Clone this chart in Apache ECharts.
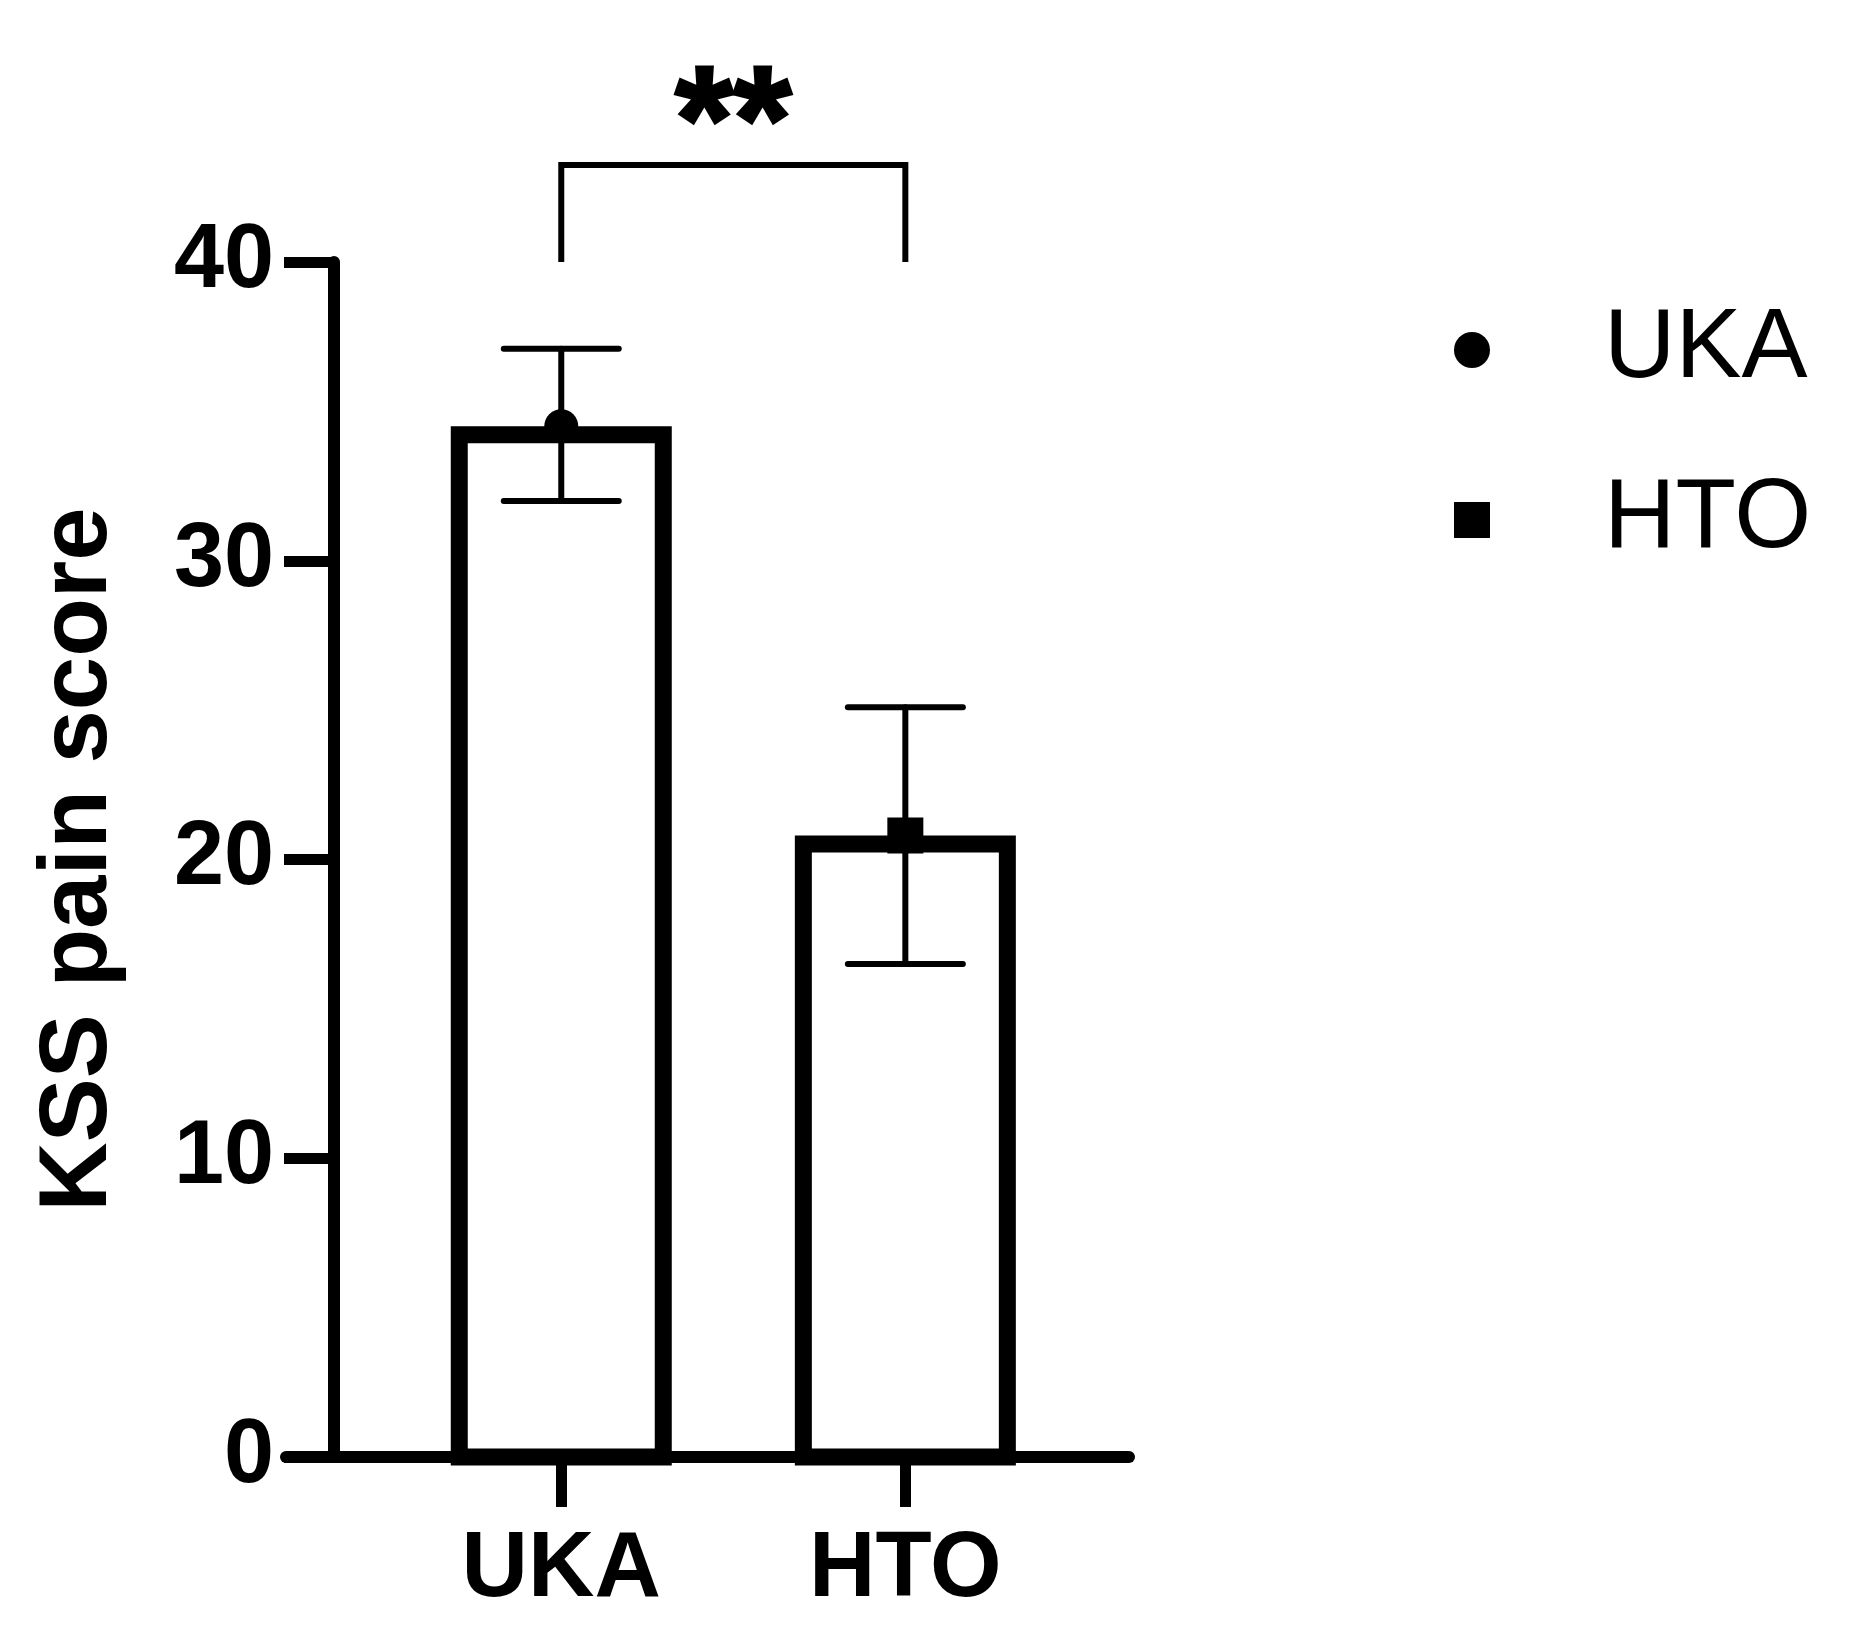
<!DOCTYPE html>
<html>
<head>
<meta charset="utf-8">
<title>KSS pain score</title>
<script src="https://cdn.jsdelivr.net/npm/echarts@6/dist/echarts.min.js"></script>
<style>
  html, body { margin: 0; padding: 0; background: #fff; }
  #chart { width: 1868px; height: 1637px; }
</style>
</head>
<body>
<div id="chart"></div>
<script>
// data
const groups = ['UKA', 'HTO'];
const groupPos = [1, 2];
const means = [34.5, 20.8];
const errLow = [32.0, 16.5];
const errHigh = [37.1, 25.1];
const yTicks = [0, 10, 20, 30, 40];
const sigPair = [1, 2];
const sigLegBottom = 40;
const sigTop = 43.25;
const sigText = '**';

const FONT = '"Liberation Sans", Arial, sans-serif';
const chart = echarts.init(document.getElementById('chart'));

const barW = 221;   // outer width
const barBorder = 17;
const capW = 115;

const option = {
  backgroundColor: '#fff',
  animation: false,
  grid: { left: 286, right: 739, top: 262, bottom: 180 },
  xAxis: {
    type: 'value',
    min: 0.2,
    max: 2.65,
    axisLine: { onZero: false, lineStyle: { color: '#000', width: 12 } },
    axisTick: { show: true, length: 50, lineStyle: { color: '#000', width: 11 }, customValues: groupPos },
    axisLabel: {
      customValues: groupPos,
      margin: 68,
      color: '#000',
      fontFamily: FONT,
      fontWeight: 'bold',
      fontSize: 92,
      formatter: v => groups[groupPos.indexOf(v)] || ''
    },
    splitLine: { show: false }
  },
  yAxis: {
    type: 'value',
    min: yTicks[0],
    max: yTicks[yTicks.length - 1],
    interval: 10,
    offset: -48,
    name: 'KSS pain score',
    nameLocation: 'middle',
    nameRotate: 90,
    nameGap: 206,
    nameTextStyle: { color: '#000', fontFamily: FONT, fontWeight: 'bold', fontSize: 96 },
    axisLine: { show: true, onZero: false, lineStyle: { color: '#000', width: 12 } },
    axisTick: { show: true, length: 50, lineStyle: { color: '#000', width: 11 } },
    axisLabel: { margin: 60, color: '#000', fontFamily: FONT, fontWeight: 'bold', fontSize: 90 },
    splitLine: { show: false }
  },
  legend: {
    orient: 'vertical',
    left: 1449,
    top: 295,
    itemWidth: 36,
    itemHeight: 36,
    itemGap: 70,
    itemStyle: { opacity: 1 },
    data: [
      { name: 'UKA', icon: 'circle' },
      { name: 'HTO', icon: 'rect' }
    ],
    textStyle: { color: '#000', fontFamily: FONT, fontSize: 99, lineHeight: 100, padding: [0, 0, 0, 109] }
  },
  series: [
    {
      // bars drawn with inset border
      type: 'custom',
      z: 2,
      data: groupPos.map((p, i) => [p, means[i]]),
      renderItem: (params, api) => {
        const top = api.coord([api.value(0), api.value(1)]);
        const base = api.coord([api.value(0), 0]);
        const h = barBorder / 2;
        return {
          type: 'rect',
          shape: { x: top[0] - barW / 2 + h, y: top[1] + h, width: barW - barBorder, height: base[1] - top[1] - h },
          style: { fill: '#fff', stroke: '#000', lineWidth: barBorder }
        };
      }
    },
    {
      // error bars
      type: 'custom',
      z: 3,
      data: groupPos.map((p, i) => [p, errLow[i], errHigh[i]]),
      renderItem: (params, api) => {
        const lo = api.coord([api.value(0), api.value(1)]);
        const hi = api.coord([api.value(0), api.value(2)]);
        const st = { stroke: '#000', lineWidth: 6, lineCap: 'round' };
        return {
          type: 'group',
          children: [
            { type: 'line', shape: { x1: lo[0], y1: lo[1], x2: hi[0], y2: hi[1] }, style: st },
            { type: 'line', shape: { x1: hi[0] - capW / 2, y1: hi[1], x2: hi[0] + capW / 2, y2: hi[1] }, style: st },
            { type: 'line', shape: { x1: lo[0] - capW / 2, y1: lo[1], x2: lo[0] + capW / 2, y2: lo[1] }, style: st }
          ]
        };
      }
    },
    {
      name: 'UKA',
      type: 'scatter',
      z: 4,
      symbol: 'circle',
      symbolSize: 34,
      itemStyle: { color: '#000', opacity: 1 },
      data: [[groupPos[0], means[0]]]
    },
    {
      name: 'HTO',
      type: 'scatter',
      z: 4,
      symbol: 'rect',
      symbolSize: 36,
      itemStyle: { color: '#000', opacity: 1 },
      data: [[groupPos[1], means[1]]]
    },
    {
      // significance bracket
      type: 'custom',
      z: 5,
      clip: false,
      data: [[sigPair[0], sigPair[1], sigLegBottom, sigTop]],
      renderItem: (params, api) => {
        const a0 = api.coord([api.value(0), api.value(2)]);
        const a1 = api.coord([api.value(0), api.value(3)]);
        const b1 = api.coord([api.value(1), api.value(3)]);
        const b0 = api.coord([api.value(1), api.value(2)]);
        return {
          type: 'group',
          children: [
            { type: 'polyline', shape: { points: [a0, a1, b1, b0] }, style: { stroke: '#000', lineWidth: 6, fill: null } },
            {
              type: 'text',
              x: (a1[0] + b1[0]) / 2,
              y: a1[1] - 35,
              style: {
                text: sigText,
                fill: '#000',
                stroke: '#000',
                lineWidth: 3,
                font: 'bold 150px ' + FONT,
                align: 'center',
                verticalAlign: 'middle'
              }
            }
          ]
        };
      }
    }
  ]
};

chart.setOption(option);
window.addEventListener('resize', () => chart.resize());
</script>
</body>
</html>
